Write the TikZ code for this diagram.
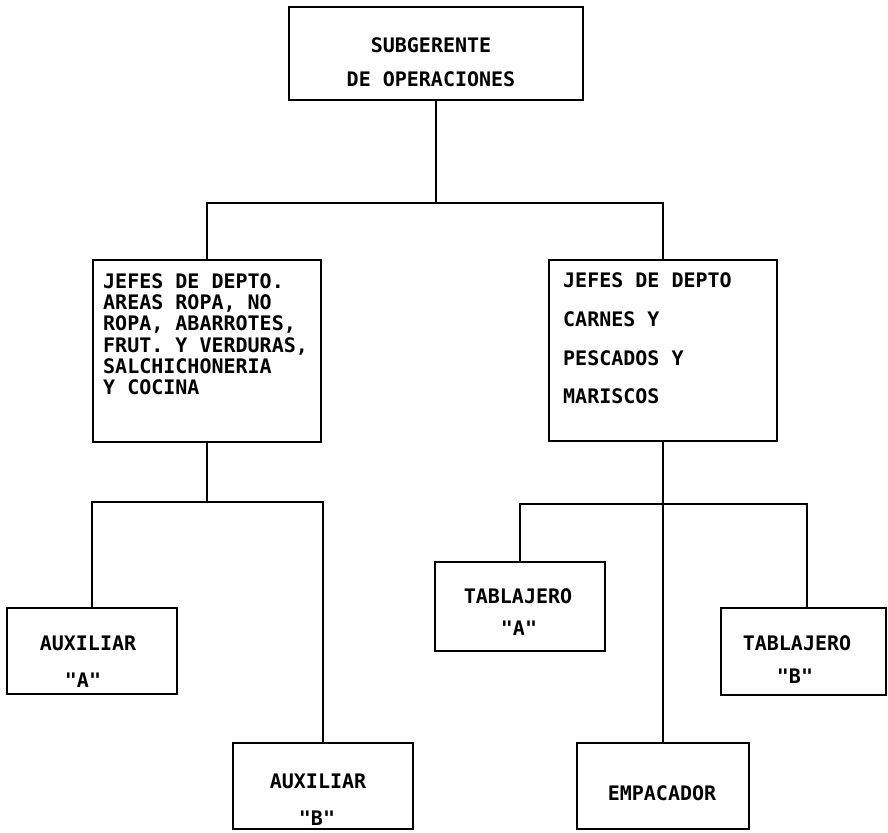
\documentclass[tikz,border=0pt]{standalone}
\usepackage{fontspec}
\newfontfamily\orgmono{DejaVu Sans Mono}
\tikzset{
  boxnode/.style={draw, line width=1.7pt, inner sep=0pt, fill=white},
  conn/.style={line width=1.7pt},
  lbl/.style={font=\orgmono\bfseries\fontsize{20}{24}\selectfont, inner sep=0pt, anchor=base},
  lbll/.style={lbl, anchor=base west}
}
\newcommand{\orgbox}[5]{%
  \node[boxnode, minimum width={(#4)-(#2)}, minimum height={(#5)-(#3)}] (#1) at ({((#2)+(#4))/2},{((#3)+(#5))/2}) {};}
\begin{document}
\begin{tikzpicture}[x=1pt,y=-1pt]
\useasboundingbox (0,0) rectangle (888,832);
% boxes
\orgbox{top}{289}{7}{583}{100}
\orgbox{L}{93}{260}{321}{442}
\orgbox{R}{549}{260}{777}{441}
\orgbox{auxA}{7}{608}{177}{694}
\orgbox{auxB}{233}{743}{413}{829}
\orgbox{tabA}{435}{562}{605}{651}
\orgbox{tabB}{721}{608}{886}{695}
\orgbox{emp}{577}{743}{749}{829}
% junctions
\coordinate (j1) at (436,203);
\coordinate (j2) at (207,502);
\coordinate (j3) at (663,504);
\coordinate (tb) at (807,608);
% connectors
\draw[conn] (top.south) -- (j1);
\draw[conn] (L.north) |- (j1) -| (R.north);
\draw[conn] (L.south) -- (j2);
\draw[conn] (auxA.north) |- (j2) -| (auxB.north);
\draw[conn] (R.south) -- (emp.north);
\draw[conn] (tabA.north) |- (j3) -| (tb);
% texts
\node[lbl] (t1) at (431,53) {SUBGERENTE};
\node[lbl] (t2) at (431,87) {DE OPERACIONES};
\node[lbll] (l1) at (103,288) {JEFES DE DEPTO.};
\node[lbll] (l2) at (103,309) {AREAS ROPA, NO};
\node[lbll] (l3) at (103,330) {ROPA, ABARROTES,};
\node[lbll] (l4) at (103,352) {FRUT. Y VERDURAS,};
\node[lbll] (l5) at (103,373) {SALCHICHONERIA};
\node[lbll] (l6) at (103,394) {Y COCINA};
\node[lbll] (r1) at (563,287) {JEFES DE DEPTO};
\node[lbll] (r2) at (563,326) {CARNES Y};
\node[lbll] (r3) at (563,365) {PESCADOS Y};
\node[lbll] (r4) at (563,403) {MARISCOS};
\node[lbl] (a1) at (88,650) {AUXILIAR};
\node[lbl] (a2) at (83,687) {"A"};
\node[lbl] (b1) at (318,788) {AUXILIAR};
\node[lbl] (b2) at (317,825) {"B"};
\node[lbl] (ta1) at (518,603) {TABLAJERO};
\node[lbl] (ta2) at (519,635) {"A"};
\node[lbl] (tb1) at (797,650) {TABLAJERO};
\node[lbl] (tb2) at (795,683) {"B"};
\node[lbl] (e1) at (662,800) {EMPACADOR};
\end{tikzpicture}
\end{document}
